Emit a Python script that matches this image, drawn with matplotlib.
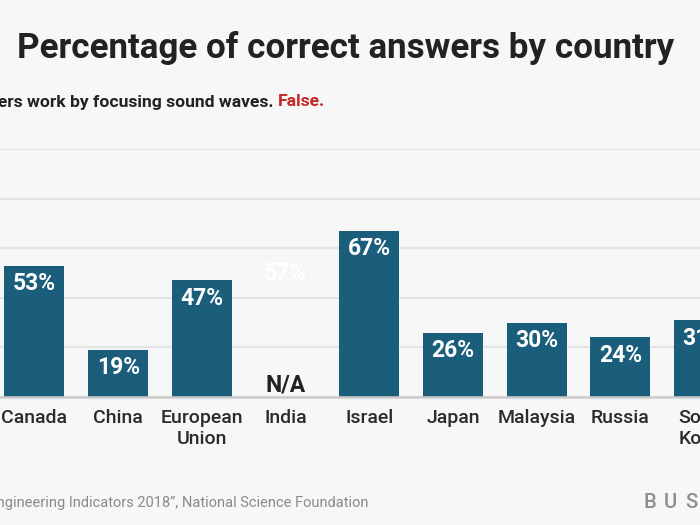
import matplotlib
matplotlib.use("Agg")
import matplotlib.pyplot as plt

countries = ["Canada", "China", "European\nUnion", "India", "Israel", "Japan",
             "Malaysia", "Russia", "South\nKorea"]
values = [53, 19, 47, None, 67, 26, 30, 24, 31]
ghost_values = {3: 57}
tick_vals = [0, 20, 40, 60, 80, 100]

title = "Percentage of correct answers by country"
subtitle = "Lasers work by focusing sound waves."
answer = "False."
source = "Source: \u201cScience and Engineering Indicators 2018\u201d, National Science Foundation"
brand = "BUSINESS"

BG = "#f7f7f7"
BAR = "#1a5e7b"
FONT = "Roboto"

W, H = 700, 525
fig = plt.figure(figsize=(7, 5.25), dpi=100, facecolor=BG)

def fx(px):
    return px / W

def fy(py):
    return 1 - py / H

ax = fig.add_axes([0, fy(397), 1, fy(149) - fy(397)])
ax.set_facecolor(BG)

xs = list(range(len(countries)))
for i, v in enumerate(values):
    if v is not None:
        ax.bar(i, v, width=0.717, color=BAR, zorder=3)
        ax.annotate(f"{v}%", (i, v), xytext=(0, -13), textcoords="offset points",
                    ha="center", va="center", color="white", fontsize=16.5,
                    fontweight="bold", family=FONT, zorder=4,
                    annotation_clip=False)
    else:
        ax.annotate("N/A", (i, 0), xytext=(0, 8.5), textcoords="offset points",
                    ha="center", va="center", color="#222222", fontsize=16.5,
                    fontweight="bold", family=FONT, zorder=4,
                    annotation_clip=False)
for i, gv in ghost_values.items():
    ax.annotate(f"{gv}%", (i, gv), xytext=(0, -13), textcoords="offset points",
                ha="center", va="center", color="white", fontsize=16.5,
                fontweight="bold", family=FONT, zorder=4, annotation_clip=False)

for i, name in enumerate(countries):
    ax.annotate(name, (i, 0), xycoords=("data", "axes fraction"),
                xytext=(0, -8.5), textcoords="offset points",
                ha="center", va="top", family=FONT, fontsize=14,
                fontweight="medium", color="#2b2b2b", linespacing=1.2,
                annotation_clip=False)

ax.set_yticks(tick_vals)
ax.yaxis.grid(True, color="#e4e4e4", linewidth=1.6, zorder=0)
ax.tick_params(axis="y", left=False, labelleft=False)
ax.set_xticks([])
ax.set_xlim(-0.412, 7.951)
ax.set_ylim(0, 100)
for s in ["top", "right", "left"]:
    ax.spines[s].set_visible(False)
ax.spines["bottom"].set_color("#cccccc")
ax.spines["bottom"].set_linewidth(1.8)
ax.spines["bottom"].set_zorder(5)

fig.text(fx(345.5), fy(48), title, ha="center", va="center", fontsize=25.2,
         fontweight="bold", family=FONT, color="#222222")
fig.text(fx(273), fy(102), subtitle, ha="right", va="center", fontsize=12.6,
         fontweight="bold", family=FONT, color="#222222")
fig.text(fx(278), fy(102), answer, ha="left", va="center", fontsize=12.6,
         fontweight="bold", family=FONT, color="#c62828")
fig.text(fx(368), fy(503), source, ha="right", va="center", fontsize=10.5,
         family=FONT, color="#8a8a8a")
for k, ch in enumerate(brand):
    fig.text(fx(649.5 + 20.7 * k), fy(503), ch, ha="center", va="center",
             fontsize=14.5, fontweight="medium", family=FONT, color="#8f8f8f")

fig.savefig("out.png", dpi=100, facecolor=BG)
